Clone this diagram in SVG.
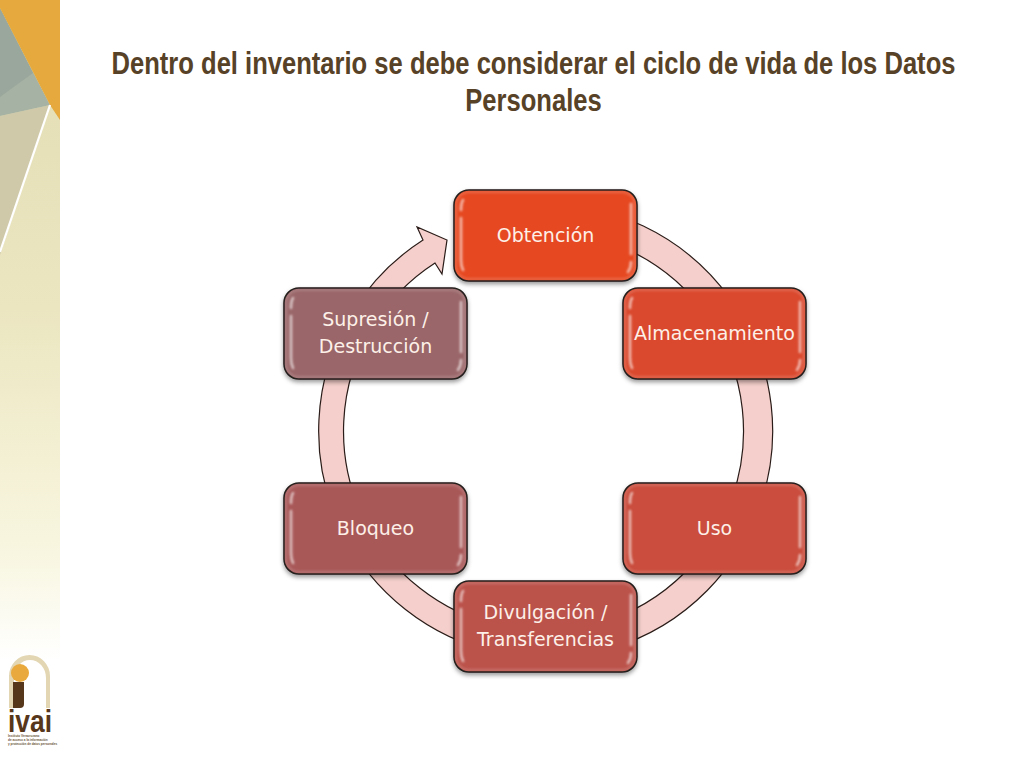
<svg xmlns="http://www.w3.org/2000/svg" width="1024" height="768" viewBox="0 0 1024 768">
<style>
.title{font-family:"Liberation Sans",Arial,sans-serif;font-weight:700;font-size:31px;fill:#574227;text-anchor:middle}
.lab{font-family:"DejaVu Sans",Verdana,sans-serif;font-size:19px;fill:#fdf0e8;text-anchor:middle}
.box{stroke:#1c1512;stroke-width:1.5}
.sheen{fill:none;stroke:#fff;stroke-width:2.6;stroke-linecap:round;opacity:.6}
.rim{fill:none;stroke:#fff;stroke-width:2;opacity:.18}
.tiny{font-family:"Liberation Sans",Arial,sans-serif;font-size:3.100px;font-weight:700;fill:#6b5238}
</style>
<defs>
<linearGradient id="panel" x1="0" y1="0" x2="0" y2="1">
<stop offset="0" stop-color="#e3dcb4"/><stop offset=".4" stop-color="#ebe6c0"/><stop offset=".72" stop-color="#f8f6e0"/><stop offset=".86" stop-color="#ffffff"/><stop offset="1" stop-color="#ffffff"/>
</linearGradient>
<filter id="sh" x="-10%" y="-10%" width="120%" height="125%"><feDropShadow dx="0" dy="2.500" stdDeviation="2" flood-color="#000" flood-opacity=".4"/></filter>
<filter id="soft" x="-20%" y="-20%" width="140%" height="140%"><feGaussianBlur stdDeviation=".9"/></filter>
<g id="shine">
<g filter="url(#soft)">
<rect class="rim" x="2" y="2" width="179" height="87" rx="13"/>
<path class="sheen" d="M7 28V70Q7 76 9 80"/><path class="sheen" d="M9 10Q7 13 7 20"/>
<path class="sheen" d="M177 14V64"/><path class="sheen" d="M177 72Q177 78 174 82"/>
</g>
</g>
</defs>
<rect width="1024" height="768" fill="#fff"/>
<g id="sidebar">
<rect x="0" y="0" width="60" height="768" fill="url(#panel)"/>
<polygon points="0,116 50,105 0,255" fill="#cfc9a9"/>
<polygon points="0,8 50,105 0,116" fill="#a6b2a3"/>
<polygon points="0,8 33,73 0,97" fill="#9aa79c"/>
<polygon points="0,0 60,0 60,120 50,105 0,8" fill="#e5a93d"/>
<line x1="50" y1="105" x2="0" y2="252" stroke="#fff" stroke-width="2.200"/>
</g>
<g id="logo">
<path d="M9 708V676a20.500 21 0 0 1 41 0V708H46V678a16 18 0 0 0-32 0V708Z" fill="#e3d6b2"/>
<circle cx="20" cy="673" r="9" fill="#e9a93c"/>
<path d="M13 682H24V704Q24 708 20 708H13Z" fill="#57371c"/>
<text x="30" y="732" font-family="'Liberation Sans',Arial,sans-serif" font-weight="700" font-size="31" fill="#57371c" text-anchor="middle" textLength="44" lengthAdjust="spacingAndGlyphs">ivai</text>
<text class="tiny" x="8" y="737">Instituto Veracruzano</text>
<text class="tiny" x="8" y="741">de acceso a la información</text>
<text class="tiny" x="8" y="745">y protección de datos personales</text>
</g>
<g id="title">
<text class="title" transform="translate(533.500 74) scale(.825 1)">Dentro del inventario se debe considerar el ciclo de vida de los Datos</text>
<text class="title" transform="translate(533.500 111) scale(.825 1)">Personales</text>
</g>
<g id="connectors">
<path d="M423 240A227 227 0 1 0 545 204V231A200 200 0 1 1 435 263L442 274L447 240L417 227Z" fill="#f5cfcb" stroke="#2a1c18" stroke-width="1.200" stroke-linejoin="miter"/>
</g>
<g id="n-obtencion" transform="translate(454 190)"><rect class="box" width="183" height="91" rx="15" fill="#e64a22" filter="url(#sh)"/><use href="#shine"/><text class="lab" x="91.500" y="52">Obtención</text></g>
<g id="n-almacenamiento" transform="translate(623 288)"><rect class="box" width="183" height="91" rx="15" fill="#da4a2e" filter="url(#sh)"/><use href="#shine"/><text class="lab" x="91.500" y="52">Almacenamiento</text></g>
<g id="n-uso" transform="translate(623 483)"><rect class="box" width="183" height="91" rx="15" fill="#ca4e3e" filter="url(#sh)"/><use href="#shine"/><text class="lab" x="91.500" y="52">Uso</text></g>
<g id="n-divulgacion" transform="translate(454 581)"><rect class="box" width="183" height="91" rx="15" fill="#bb534b" filter="url(#sh)"/><use href="#shine"/><text class="lab" x="91.500" y="38">Divulgación /</text><text class="lab" x="91.500" y="65">Transferencias</text></g>
<g id="n-bloqueo" transform="translate(284 483)"><rect class="box" width="183" height="91" rx="15" fill="#a95959" filter="url(#sh)"/><use href="#shine"/><text class="lab" x="91.500" y="52">Bloqueo</text></g>
<g id="n-supresion" transform="translate(284 288)"><rect class="box" width="183" height="91" rx="15" fill="#9a6669" filter="url(#sh)"/><use href="#shine"/><text class="lab" x="91.500" y="38">Supresión /</text><text class="lab" x="91.500" y="65">Destrucción</text></g>
</svg>
